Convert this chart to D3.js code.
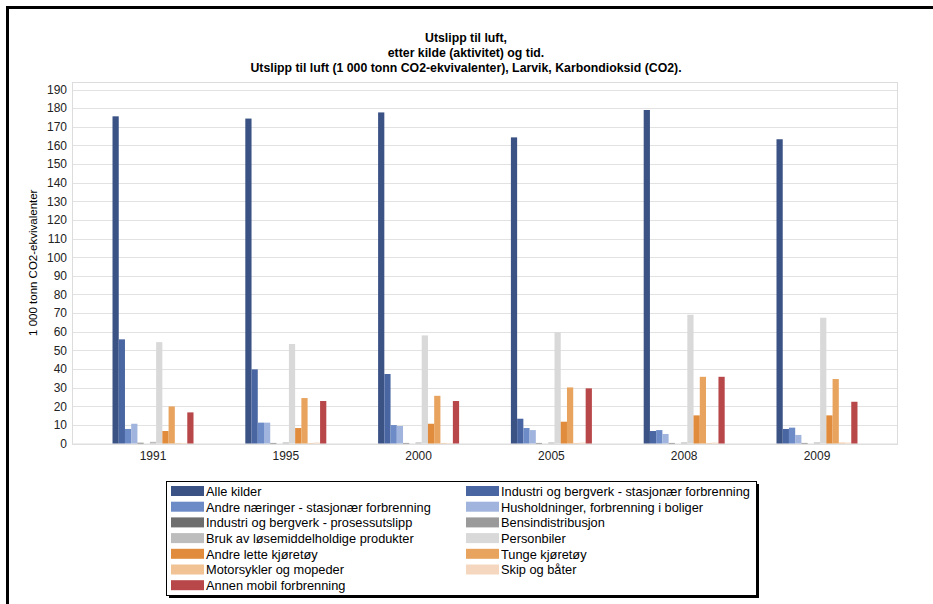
<!DOCTYPE html>
<html>
<head>
<meta charset="utf-8">
<script src="https://cdn.jsdelivr.net/npm/d3@7/dist/d3.min.js"></script>
<style>
  html, body { margin: 0; padding: 0; background: #fff; }
  svg { display: block; font-family: "Liberation Sans", Arial, sans-serif; }
</style>
</head>
<body>
<svg id="chart" width="933" height="604"></svg>
<script>
// Years on the category axis
const years = ["1991", "1995", "2000", "2005", "2008", "2009"];

// Emission sources (series), in legend order
const sources = [
  "Alle kilder",
  "Industri og bergverk - stasjonær forbrenning",
  "Andre næringer - stasjonær forbrenning",
  "Husholdninger, forbrenning i boliger",
  "Industri og bergverk - prosessutslipp",
  "Bensindistribusjon",
  "Bruk av løsemiddelholdige produkter",
  "Personbiler",
  "Andre lette kjøretøy",
  "Tunge kjøretøy",
  "Motorsykler og mopeder",
  "Skip og båter",
  "Annen mobil forbrenning"
];

// 1 000 tonn CO2-ekvivalenter, one array per source, one value per year
const alleKilder      = [175.6, 174.4, 177.7, 164.3, 179.0, 163.3];
const industriStasj   = [55.9, 39.8, 37.3, 13.3, 6.7, 7.8];
const andreNaeringer  = [7.8, 11.2, 9.9, 8.3, 7.2, 8.5];
const husholdninger   = [10.6, 11.2, 9.4, 7.2, 5.1, 4.6];
const industriProsess = [0.4, 0.3, 0.3, 0.3, 0.3, 0.3];
const bensindistr     = [0.0, 0.0, 0.0, 0.0, 0.0, 0.0];
const losemiddel      = [0.9, 0.6, 0.6, 0.6, 0.6, 0.6];
const personbiler     = [54.4, 53.4, 58.0, 59.8, 69.1, 67.5];
const andreLette      = [6.7, 8.3, 10.6, 11.7, 15.1, 15.1];
const tungeKjoretoy   = [19.9, 24.4, 25.6, 30.1, 35.8, 34.6];
const motorsykler     = [0.3, 0.3, 0.3, 0.3, 0.3, 0.5];
const skipBater       = [0.3, 0.5, 0.3, 0.5, 0.5, 0.5];
const annenMobil      = [16.7, 22.8, 22.8, 29.6, 35.8, 22.4];

const seriesValues = [
  alleKilder, industriStasj, andreNaeringer, husholdninger, industriProsess,
  bensindistr, losemiddel, personbiler, andreLette, tungeKjoretoy,
  motorsykler, skipBater, annenMobil
];

const colors = [
  "#3b5285", "#4a66a2", "#6d8bc6", "#a0b4dd", "#6e6e6e", "#9a9a9a",
  "#bdbdbd", "#d9d9d9", "#e08c3c", "#e8a45e", "#f0c294", "#f5d7bf", "#b84749"
];

const yTicks = d3.range(0, 200, 10);

const svg = d3.select("#chart");

// Frame lines along the top and left edges
svg.append("rect").attr("x", 6).attr("y", 6).attr("width", 927).attr("height", 3).attr("fill", "#000");
svg.append("rect").attr("x", 6).attr("y", 6).attr("width", 3).attr("height", 598).attr("fill", "#000");

// Titles
const titles = [
  "Utslipp til luft,",
  "etter kilde (aktivitet) og tid.",
  "Utslipp til luft (1 000 tonn CO2-ekvivalenter), Larvik, Karbondioksid (CO2)."
];
svg.append("g").selectAll("text").data(titles).join("text")
  .attr("x", 466).attr("y", (d, i) => 42 + i * 15)
  .attr("text-anchor", "middle")
  .attr("font-size", 12.3).attr("font-weight", "bold").attr("fill", "#000")
  .text(d => d);

// Plot area
const plotL = 72, plotR = 898, plotT = 82, plotB = 443.5;
const y = d3.scaleLinear().domain([0, 190 * (plotB - plotT) / (plotB - 89.5)]).range([plotB, plotT]);
const x0 = d3.scaleBand().domain(years).range([plotL, plotR]).paddingOuter(0.11).paddingInner(0);
const groupW = 81;
const x1 = d3.scaleBand().domain(d3.range(sources.length)).range([0, groupW]);

// Gridlines
svg.append("g").selectAll("line").data(yTicks).join("line")
  .attr("x1", plotL).attr("x2", plotR)
  .attr("y1", d => Math.round(y(d)) + 0.5).attr("y2", d => Math.round(y(d)) + 0.5)
  .attr("stroke", "#e2e2e2").attr("stroke-width", 1);

// Plot border
svg.append("rect")
  .attr("x", plotL + 0.5).attr("y", plotT + 0.5)
  .attr("width", plotR - plotL - 1).attr("height", plotB - plotT)
  .attr("fill", "none").attr("stroke", "#dcdcdc");

// Y axis
const yAxis = d3.axisLeft(y).tickValues(yTicks).tickSize(0).tickPadding(5);
const gy = svg.append("g").attr("transform", `translate(${plotL},0)`).call(yAxis);
gy.select(".domain").remove();
gy.selectAll("text").attr("font-size", 12).attr("fill", "#222")
  .attr("font-family", "'Liberation Sans', Arial, sans-serif");

// X axis
const xAxis = d3.axisBottom(x0).tickSize(0).tickPadding(8);
const gx = svg.append("g").attr("transform", `translate(0,${plotB})`).call(xAxis);
gx.select(".domain").remove();
gx.selectAll("text").attr("font-size", 12).attr("fill", "#222")
  .attr("font-family", "'Liberation Sans', Arial, sans-serif");

// Y axis title
svg.append("text")
  .attr("transform", `translate(37,${(plotT + plotB) / 2}) rotate(-90)`)
  .attr("text-anchor", "middle").attr("font-size", 11.5).attr("fill", "#000")
  .text("1 000 tonn CO2-ekvivalenter");

// Bars
const groups = svg.append("g").selectAll("g").data(years).join("g")
  .attr("transform", d => `translate(${x0(d) + (x0.bandwidth() - groupW) / 2},0)`);
groups.selectAll("rect")
  .data((yr, yi) => seriesValues.map((vals, si) => ({ si, v: vals[yi] })))
  .join("rect")
  .attr("x", d => x1(d.si))
  .attr("width", x1.bandwidth())
  .attr("y", d => y(d.v))
  .attr("height", d => y(0) - y(d.v))
  .attr("fill", d => colors[d.si]);

// Legend
const lg = svg.append("g");
const lx = 166, ly = 481, lw = 590, lh = 114;
lg.append("rect").attr("x", lx + 3).attr("y", ly + 3).attr("width", lw).attr("height", lh).attr("fill", "#000");
lg.append("rect").attr("x", lx + 0.5).attr("y", ly + 0.5).attr("width", lw).attr("height", lh)
  .attr("fill", "#fff").attr("stroke", "#000");
const items = lg.selectAll("g").data(sources).join("g")
  .attr("transform", (d, i) => `translate(${lx + 5 + (i % 2) * 295},${ly + 5 + Math.floor(i / 2) * 15.7})`);
items.append("rect").attr("width", 33).attr("height", 10).attr("fill", (d, i) => colors[i]);
items.append("text").attr("x", 35).attr("y", 9.8).attr("font-size", 12.8).attr("fill", "#000").text(d => d);
</script>
</body>
</html>
